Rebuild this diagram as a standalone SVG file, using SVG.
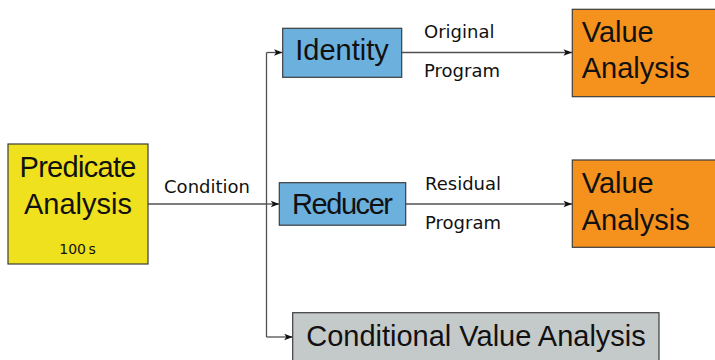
<svg xmlns="http://www.w3.org/2000/svg" width="715" height="360" viewBox="0 0 715 360">
  <style>
    .box { stroke: #3c3c3c; stroke-width: 1.2; }
    .big { font-family: "Liberation Sans", Arial, sans-serif; font-size: 29px; fill: #111; }
    .lbl { font-family: "DejaVu Sans", sans-serif; font-size: 18px; fill: #111; }
    .small { font-family: "DejaVu Sans", sans-serif; font-size: 14px; fill: #111; }
    .edge { fill: none; stroke: #505050; stroke-width: 1.3; }
  </style>
  <defs>
    <marker id="arrow" markerUnits="userSpaceOnUse" markerWidth="10" markerHeight="8" refX="9" refY="4" orient="auto">
      <path d="M0.5,0.8 L9,4 L0.5,7.2 L2.6,4 Z" fill="#111"/>
    </marker>
  </defs>

  <!-- connectors -->
  <g id="connectors">
    <path class="edge" d="M148,204 H266.5"/>
    <path class="edge" d="M266.5,52.5 V337"/>
    <path class="edge" d="M266.5,52.5 H282.5" marker-end="url(#arrow)"/>
    <path class="edge" d="M266.5,204 H279.3" marker-end="url(#arrow)"/>
    <path class="edge" d="M266.5,337 H292.7" marker-end="url(#arrow)"/>
    <path class="edge" d="M401.7,52.5 H572" marker-end="url(#arrow)"/>
    <path class="edge" d="M405.7,204 H572" marker-end="url(#arrow)"/>
    <text class="lbl" x="207" y="193" text-anchor="middle">Condition</text>
    <text class="lbl" x="424" y="38">Original</text>
    <text class="lbl" x="424" y="76.5">Program</text>
    <text class="lbl" x="425" y="190">Residual</text>
    <text class="lbl" x="425" y="228.5">Program</text>
  </g>

  <!-- predicate analysis -->
  <g id="predicate">
    <rect class="box" x="8" y="144" width="140" height="120" fill="#F0E11E"/>
    <text class="big" x="78" y="177" text-anchor="middle" textLength="117">Predicate</text>
    <text class="big" x="78" y="214" text-anchor="middle">Analysis</text>
    <text class="small" x="77.5" y="254" text-anchor="middle" word-spacing="-2">100 s</text>
  </g>

  <!-- identity -->
  <g id="identity">
    <rect class="box" x="282.7" y="28.3" width="119" height="49" fill="#6CB0DE"/>
    <text class="big" x="342" y="60" text-anchor="middle">Identity</text>
  </g>

  <!-- reducer -->
  <g id="reducer">
    <rect class="box" x="279.3" y="182.7" width="126.4" height="42.5" fill="#6CB0DE"/>
    <text class="big" x="342.5" y="214.3" text-anchor="middle" textLength="101">Reducer</text>
  </g>

  <!-- value analysis (original program) -->
  <g id="value-original">
    <rect class="box" x="572.3" y="9.3" width="160" height="87.4" fill="#F5921E"/>
    <text class="big" x="581.7" y="41.7">Value</text>
    <text class="big" x="581.7" y="78.3">Analysis</text>
  </g>

  <!-- value analysis (residual program) -->
  <g id="value-residual">
    <rect class="box" x="572.3" y="160" width="160" height="87.3" fill="#F5921E"/>
    <text class="big" x="581.7" y="193.3">Value</text>
    <text class="big" x="581.7" y="230">Analysis</text>
  </g>

  <!-- conditional value analysis -->
  <g id="conditional">
    <rect class="box" x="292.7" y="312.7" width="366.3" height="60" fill="#C4C9C9"/>
    <text class="big" x="476" y="345.5" text-anchor="middle">Conditional Value Analysis</text>
  </g>
</svg>
